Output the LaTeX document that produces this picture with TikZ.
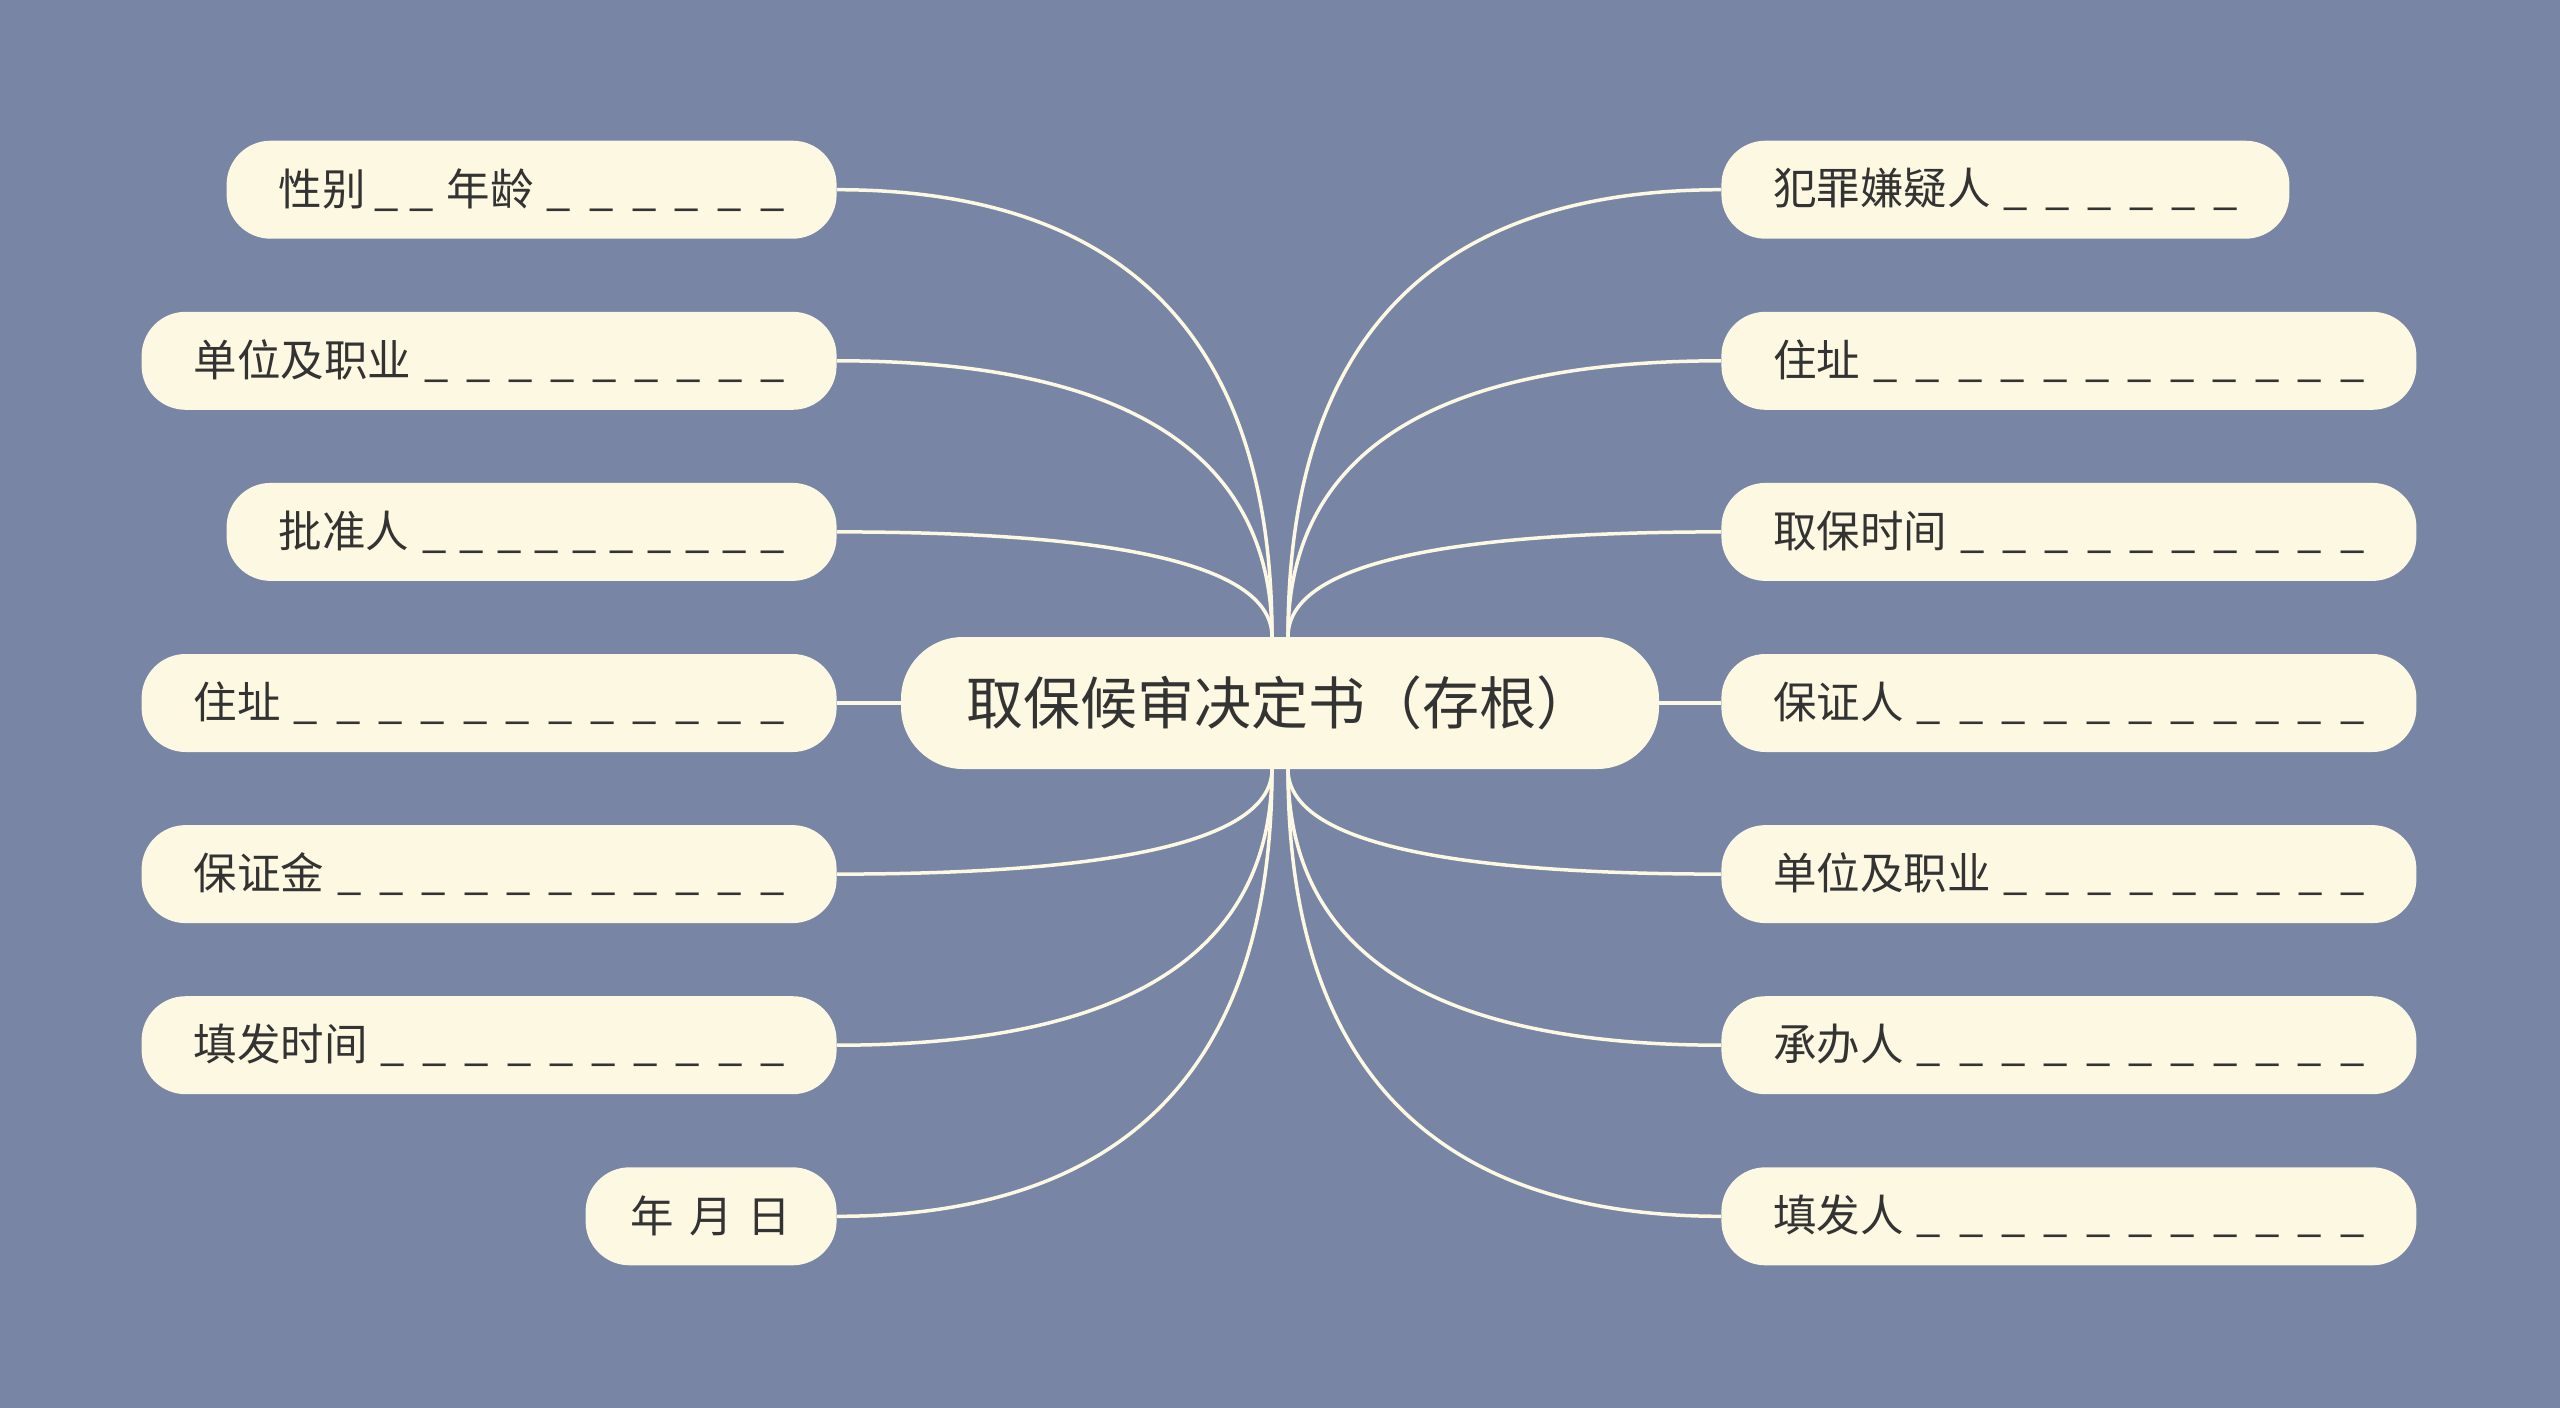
\documentclass[tikz,border=0pt]{standalone}
\usepackage{fontspec}
\setmainfont{Noto Sans CJK SC}
\usetikzlibrary{positioning}

\definecolor{bgblue}{HTML}{7885A5}
\definecolor{cream}{HTML}{FCF8E2}
\definecolor{inkgray}{HTML}{333333}

% a row of blanks, spread out to the end of the line
\newcommand\blanks[1]{\kern.3em\_\foreach \k in {2,...,#1}{\hfill\_}}

\tikzset{
  bubble/.style={rectangle, rounded corners=44pt, fill=cream, text=inkgray,
    minimum height=98pt, font=\fontsize{43.5pt}{50pt}\selectfont},
  leaf/.style={bubble, inner xsep=52pt, text width=#1, align=left},
  datebox/.style={bubble, inner xsep=0pt, minimum width=251pt},
  root/.style={rectangle, rounded corners=62pt, fill=cream, text=inkgray,
    minimum width=758pt, minimum height=132pt, font=\fontsize{57pt}{66pt}\selectfont},
  link/.style={draw=cream, line width=3.5pt}
}

\begin{document}
\begin{tikzpicture}[x=1pt,y=-1pt,node distance=72.7pt]
    \fill[bgblue] (0,0) rectangle (2560,1408);
    \node[root] (root) at (1280,703) {取保候审决定书（存根）};

    % left side
    \node[leaf=591pt] (addrL) [left=64pt of root] {住址\blanks{12}};
    \node[leaf=506pt] (approver) [above=of addrL.north east, anchor=south east] {批准人\blanks{10}};
    \node[leaf=591pt] (jobL) [above=of approver.north east, anchor=south east] {单位及职业\blanks{9}};
    \node[leaf=506pt] (gender) [above=of jobL.north east, anchor=south east] {性别\kern.2em\_\kern.25em\_\kern.3em年龄\blanks{6}};
    \node[leaf=591pt] (bail) [below=of addrL.south east, anchor=north east] {保证金\blanks{11}};
    \node[leaf=591pt] (issuedate) [below=of bail.south east, anchor=north east] {填发时间\blanks{10}};
    \node[datebox] (ymd) [below=of issuedate.south east, anchor=north east] {年\hspace{.12em} 月\hspace{.12em} 日};

    % right side
    \node[leaf=591pt] (guarantor) [right=62pt of root] {保证人\blanks{11}};
    \node[leaf=591pt] (bailtime) [above=of guarantor.north west, anchor=south west] {取保时间\blanks{10}};
    \node[leaf=591pt] (addrR) [above=of bailtime.north west, anchor=south west] {住址\blanks{12}};
    \node[leaf=464pt] (suspect) [above=of addrR.north west, anchor=south west] {犯罪嫌疑人\blanks{6}};
    \node[leaf=591pt] (jobR) [below=of guarantor.south west, anchor=north west] {单位及职业\blanks{9}};
    \node[leaf=591pt] (handler) [below=of jobR.south west, anchor=north west] {承办人\blanks{11}};
    \node[leaf=591pt] (issuer) [below=of handler.south west, anchor=north west] {填发人\blanks{11}};

    % connectors, bending into the top and bottom of the root
    \draw[link] (gender.east) .. controls +(290,0) and +(0,-297) .. ([xshift=-8pt]root.north);
    \draw[link] (jobL.east) .. controls +(290,0) and +(0,-183) .. ([xshift=-8pt]root.north);
    \draw[link] (approver.east) .. controls +(290,0) and +(0,-70) .. ([xshift=-8pt]root.north);
    \draw[link] (addrL) -- (root);
    \draw[link] (bail.east) .. controls +(290,0) and +(0,69) .. ([xshift=-8pt]root.south);
    \draw[link] (issuedate.east) .. controls +(290,0) and +(0,184) .. ([xshift=-8pt]root.south);
    \draw[link] (ymd.east) .. controls +(290,0) and +(0,297) .. ([xshift=-8pt]root.south);
    \draw[link] (suspect.west) .. controls +(-289,0) and +(0,-297) .. ([xshift=8pt]root.north);
    \draw[link] (addrR.west) .. controls +(-289,0) and +(0,-183) .. ([xshift=8pt]root.north);
    \draw[link] (bailtime.west) .. controls +(-289,0) and +(0,-70) .. ([xshift=8pt]root.north);
    \draw[link] (guarantor) -- (root);
    \draw[link] (jobR.west) .. controls +(-289,0) and +(0,69) .. ([xshift=8pt]root.south);
    \draw[link] (handler.west) .. controls +(-289,0) and +(0,184) .. ([xshift=8pt]root.south);
    \draw[link] (issuer.west) .. controls +(-289,0) and +(0,297) .. ([xshift=8pt]root.south);
\end{tikzpicture}
\end{document}
